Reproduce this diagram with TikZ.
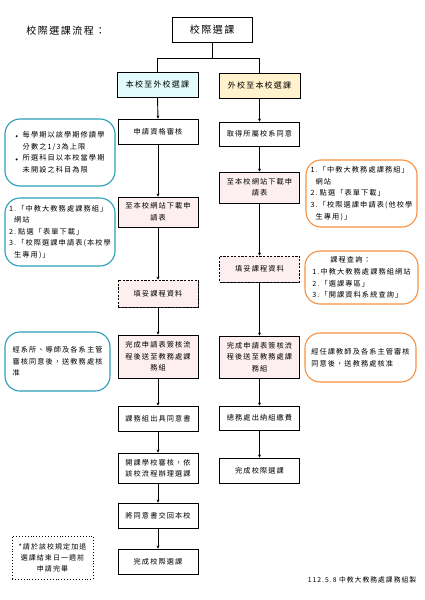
\documentclass[tikz,border=0pt]{standalone}
\usepackage{fontspec}
\setmainfont{Noto Sans CJK TC}[LetterSpace=15]
\usetikzlibrary{arrows.meta,shadows}
\definecolor{cyanfill}{HTML}{E2FBFD}
\definecolor{yellowfill}{HTML}{FFF2CC}
\definecolor{pinkfill}{HTML}{FDEFEF}
\definecolor{blueline}{HTML}{2A9DB8}
\definecolor{orangeline}{HTML}{F7913F}
\newcommand{\mybullet}{\raisebox{1.2pt}{\tikz[baseline]\fill (0,0) circle (1.1pt);}}
\tikzset{
  stepbox/.style={draw, line width=0.9pt, fill=white, minimum width=80pt, minimum height=25pt,
    align=center, inner sep=1pt, font=\fontsize{7.2}{11.5}\selectfont,
    drop shadow={shadow xshift=0.7pt, shadow yshift=-0.7pt, fill=black!80, opacity=1}},
  pinkbox/.style={stepbox, fill=pinkfill},
  dashbox/.style={stepbox, fill=pinkfill, dash pattern=on 2.2pt off 1.4pt},
  headbox/.style={stepbox, font=\fontsize{8}{11}\selectfont},
  notebox/.style={draw, line width=1.1pt, rounded corners=15pt, align=left, inner sep=2pt,
    font=\fontsize{7.2}{11.6}\selectfont},
  bluenote/.style={notebox, draw=blueline},
  orangenote/.style={notebox, draw=orangeline},
  conn/.style={line width=0.9pt},
  arr/.style={conn, -{Stealth[length=3pt,width=3pt]}}
}
\begin{document}
\begin{tikzpicture}[x=1pt,y=-1pt]
\useasboundingbox (0,0) rectangle (424,600);
\fill[white] (0,0) rectangle (424,600);

\node[font=\fontsize{10}{12}\selectfont] (title) at (66,31) {校際選課流程：};
\node[stepbox, font=\fontsize{10}{12}\selectfont, minimum width=80pt, minimum height=25pt] (T) at (212,29.5) {校際選課};

% left column
\node[headbox, fill=cyanfill, minimum width=81pt] (L0) at (157.5,84.5) {本校至外校選課};
\node[stepbox] (L1) at (158,131.5) {申請資格審核};
\node[pinkbox, minimum height=30pt] (L2) at (158,212) {至本校網站下載申\\請表};
\node[dashbox, minimum height=27pt] (L3) at (158,293.5) {填妥課程資料};
\node[pinkbox, minimum height=43pt] (L4) at (158,356.5) {完成申請表簽核流\\程後送至教務處課\\務組};
\node[stepbox] (L5) at (158,418.5) {課務組出具同意書};
\node[stepbox, minimum height=30pt] (L6) at (158,468) {開課學校審核，依\\該校流程辦理選課};
\node[stepbox] (L7) at (158,515.5) {將同意書交回本校};
\node[stepbox] (L8) at (158,561.5) {完成校際選課};

% right column
\node[headbox, fill=yellowfill, minimum width=81pt] (R0) at (259.5,85.5) {外校至本校選課};
\node[stepbox, minimum height=24pt] (R1) at (259.5,134) {取得所屬校系同意};
\node[pinkbox, minimum height=31pt] (R2) at (259.5,187.5) {至本校網站下載申\\請表};
\node[dashbox, minimum height=26pt] (R3) at (259.5,269) {填妥課程資料};
\node[pinkbox, minimum height=42pt] (R4) at (259.5,357) {完成申請表簽核流\\程後送至教務處課\\務組};
\node[stepbox, minimum height=24pt] (R5) at (259.5,418) {總務處出納組繳費};
\node[stepbox] (R6) at (259.5,470.5) {完成校際選課};

% connectors
\coordinate (jl) at (157.5,58);
\coordinate (jr) at (259.5,58);
\coordinate (jm) at (212,58);
\draw[conn] (T.south) -- (jm);
\draw[conn] (L0.north) -- (jl) -- (jr) -- (R0.north);
\foreach \a/\b in {L0/L1,L1/L2,L2/L3,L3/L4,L4/L5,L5/L6,L6/L7,L7/L8,R0/R1,R1/R2,R2/R3,R3/R4,R4/R5,R5/R6}
  \draw[arr] (\a.south) -- (\b.north);

% blue notes
\node[bluenote, minimum width=110pt, minimum height=67pt] (A1) at (60,152.5)
 {\begin{tabular}{@{}l@{\hspace{5pt}}l@{}}
 \mybullet & 每學期以該學期修讀學\\
  & 分數之1/3為上限\\
 \mybullet & 所選科目以本校當學期\\
  & 未開設之科目為限
 \end{tabular}};
\node[bluenote, minimum width=110pt, minimum height=68pt] (A2) at (60,232)
 {1.「中教大教務處課務組」\\
  \hspace{5pt}網站\\
  2.\hspace{2pt}點選「表單下載」\\
  3.「校際選課申請表(本校學\\
  \hspace{5pt}生專用)」};
\node[bluenote, minimum width=105pt, minimum height=59pt] (A3) at (57.5,361.5)
 {經系所、導師及各系主管\\審核同意後，送教務處核\\准};

% orange notes
\node[orangenote, minimum width=111pt, minimum height=67pt] (B1) at (361.5,193.5)
 {1.「中教大教務處課務組」\\
  \hspace{5pt}網站\\
  2.\hspace{2pt}點選「表單下載」\\
  3.「校際選課申請表(他校學\\
  \hspace{5pt}生專用)」};
\node[orangenote, minimum width=113pt, minimum height=53pt] (B2) at (361.5,277.5)
 {\hspace{18pt}課程查詢：\\
  1.中教大教務處課務組網站\\
  2.「選課專區」\\
  3.「開課資料系統查詢」};
\node[orangenote, minimum width=111pt, minimum height=49pt] (B3) at (360.5,357.5)
 {經任課教師及各系主管審核\\同意後，送教務處核准};

% dotted note
\node[draw, dotted, line width=0.9pt, minimum width=81pt, minimum height=43pt, align=center,
  font=\fontsize{7}{11}\selectfont] (N) at (52.5,557.5)
 {*請於該校規定加退\\選課結束日一週前\\申請完畢};

% footer
\node[font=\fontsize{6.8}{8}\selectfont] (F) at (362,580) {112.5.8 中教大教務處課務組製};
\end{tikzpicture}
\end{document}
